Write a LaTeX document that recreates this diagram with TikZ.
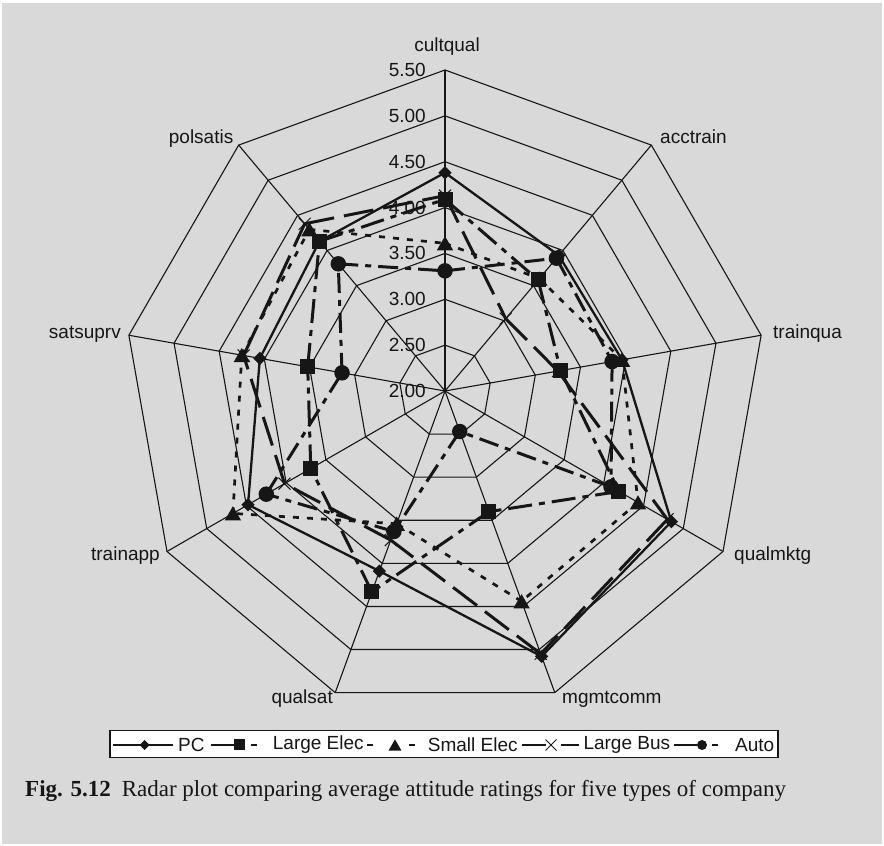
\documentclass[tikz,border=0pt]{standalone}
\usepackage{fontspec}
\setmainfont{Liberation Sans}
\newfontfamily\capfont{Liberation Serif}
\usetikzlibrary{shapes.geometric,shapes.misc}
\definecolor{bgcol}{RGB}{217,217,217}
\definecolor{ink}{RGB}{22,22,22}
\begin{document}
\begin{tikzpicture}[x=1pt,y=1pt,
  gridline/.style={line width=1.1pt,draw=ink},
  vlabel/.style={anchor=east,inner sep=0pt,text=ink,font=\fontsize{19}{22}\selectfont},
  alabel/.style={inner sep=0pt,text=ink,font=\fontsize{19}{22}\selectfont},
  pcline/.style={draw=ink,line width=2.3pt},
  leline/.style={draw=ink,line width=3pt,dash pattern=on 24pt off 7pt on 6pt off 7pt},
  seline/.style={draw=ink,line width=2.7pt,dash pattern=on 6pt off 8pt},
  lbline/.style={draw=ink,line width=3pt,dash pattern=on 30pt off 10pt},
  auline/.style={draw=ink,line width=3pt,dash pattern=on 20pt off 7pt on 6pt off 7pt},
  pcmark/.style={diamond,fill=ink,inner sep=0pt,minimum width=13.5pt,minimum height=13.5pt},
  lemark/.style={rectangle,fill=ink,inner sep=0pt,minimum size=15pt},
  semark/.style={regular polygon,regular polygon sides=3,fill=ink,inner sep=0pt,minimum size=19pt,yshift=-2.3pt},
  lbmark/.style={cross out,draw=ink,line width=1pt,inner sep=0pt,minimum size=11pt},
  aumark/.style={circle,fill=ink,inner sep=0pt,minimum size=15.5pt},
  legline/.style={draw=ink,line width=2.8pt},
  legtext/.style={anchor=west,inner sep=0pt,text=ink,font=\fontsize{19}{22}\selectfont},
]
\useasboundingbox (0,0) rectangle (884,846);
\fill[white] (0,0) rectangle (884,846);
\fill[bgcol] (2,2) rectangle (882,843);

\coordinate (C) at (445,455);
\begin{scope}[shift={(445,455)}]
  % rings
  \foreach \L in {2.5,3.0,3.5,4.0,4.5,5.0,5.5} {
    \draw[gridline] (90:{(\L-2)*91.714})
      \foreach \k in {1,...,8} { -- ({90-40*\k}:{(\L-2)*91.714}) } -- cycle;
  }
  % spoke ends
  \foreach \k in {0,...,8} { \coordinate (ax\k) at ({90-40*\k}:321); }
  % data points
  \foreach \v [count=\i from 0] in {4.38,3.93,3.96,4.85,5.08,4.09,4.48,4.05,4.13}
    { \coordinate (pc\i) at ({90-40*\i}:{(\v-2)*91.714}); }
  \foreach \v [count=\i from 0] in {4.09,3.58,3.28,4.19,3.40,4.33,3.69,3.52,4.13}
    { \coordinate (le\i) at ({90-40*\i}:{(\v-2)*91.714}); }
  \foreach \v [count=\i from 0] in {3.61,3.60,3.96,4.43,4.44,3.54,4.67,4.25,4.30}
    { \coordinate (se\i) at ({90-40*\i}:{(\v-2)*91.714}); }
  \foreach \v [count=\i from 0] in {4.13,3.03,3.25,4.80,5.05,3.73,4.02,4.23,4.38}
    { \coordinate (lb\i) at ({90-40*\i}:{(\v-2)*91.714}); }
  \foreach \v [count=\i from 0] in {3.31,3.89,3.85,4.09,2.47,3.63,4.25,3.14,3.81}
    { \coordinate (au\i) at ({90-40*\i}:{(\v-2)*91.714}); }
\end{scope}

% spokes
\foreach \k in {0,...,8} { \draw[gridline] (C) -- (ax\k); }

% value labels
\foreach \L/\t [count=\n] in {2/2.00,2.5/2.50,3/3.00,3.5/3.50,4/4.00,4.5/4.50,5/5.00,5.5/5.50}
  { \node[vlabel] (vl\n) at (426,{455+(\L-2)*91.714}) {\t}; }

% axis labels
\node[alabel,anchor=base] (lcult) at (447,794) {cultqual};
\node[alabel,anchor=base west] (lacc) at (660,702) {acctrain};
\node[alabel,anchor=base west] (ltq) at (773,507.5) {trainqua};
\node[alabel,anchor=base west] (lqm) at (734,285) {qualmktg};
\node[alabel,anchor=base west] (lmg) at (562,142) {mgmtcomm};
\node[alabel,anchor=base east] (lqs) at (333,142) {qualsat};
\node[alabel,anchor=base east] (lta) at (160,285) {trainapp};
\node[alabel,anchor=base east] (lss) at (121,507.5) {satsuprv};
\node[alabel,anchor=base east] (lps) at (233.5,702) {polsatis};

% series
\foreach \i in {0,...,8} { \pgfmathtruncatemacro{\j}{mod(\i+1,9)} \draw[pcline] (pc\i) -- (pc\j); }
\foreach \i in {0,...,8} { \node[pcmark] (pcm\i) at (pc\i) {}; }
\foreach \i in {0,...,8} { \pgfmathtruncatemacro{\j}{mod(\i+1,9)} \draw[leline] (le\i) -- (le\j); }
\foreach \i in {0,...,8} { \node[lemark] (lem\i) at (le\i) {}; }
\foreach \i in {0,...,8} { \pgfmathtruncatemacro{\j}{mod(\i+1,9)} \draw[seline] (se\i) -- (se\j); }
\foreach \i in {0,...,8} { \node[semark] (sem\i) at (se\i) {}; }
\foreach \i in {0,...,8} { \pgfmathtruncatemacro{\j}{mod(\i+1,9)} \draw[lbline] (lb\i) -- (lb\j); }
\foreach \i in {0,...,8} { \node[lbmark] (lbm\i) at (lb\i) {}; }
\foreach \i in {0,...,8} { \pgfmathtruncatemacro{\j}{mod(\i+1,9)} \draw[auline] (au\i) -- (au\j); }
\foreach \i in {0,...,8} { \node[aumark] (aum\i) at (au\i) {}; }

% legend
\node[draw=ink,fill=white,line width=1.2pt,minimum width=668pt,minimum height=27pt,inner sep=0pt] (legend) at (444,102.3) {};
\coordinate (pa) at (113,101); \coordinate (pb) at (173,101);
\draw[draw=ink,line width=1.8pt] (pa) -- (pb);
\node[pcmark,minimum width=10pt,minimum height=10pt] (lgpc) at (144.6,101) {};
\node[legtext] (tpc) at (178,101) {PC};
\coordinate (la) at (211,101); \coordinate (lb) at (235,101);
\coordinate (lc) at (251,101); \coordinate (ld) at (257,101);
\draw[legline] (la) -- (lb); \draw[legline] (lc) -- (ld);
\node[lemark,minimum size=11pt] (lgle) at (239.5,101) {};
\node[legtext] (tle) at (272.7,101) {Large Elec};
\coordinate (sa) at (367,101); \coordinate (sb) at (373,101);
\coordinate (sc) at (409,101); \coordinate (sd) at (415,101);
\draw[legline] (sa) -- (sb); \draw[legline] (sc) -- (sd);
\node[semark,minimum size=15pt,yshift=0.4pt] (lgse) at (395,101) {};
\node[legtext] (tse) at (427.7,101) {Small Elec};
\coordinate (ba) at (522,101); \coordinate (bb) at (546,101);
\coordinate (bc) at (561,101); \coordinate (bd) at (579,101);
\draw[legline] (ba) -- (bb); \draw[legline] (bc) -- (bd);
\node[lbmark,minimum size=10pt] (lglb) at (551,101) {};
\node[legtext] (tlb) at (583.3,101) {Large Bus};
\coordinate (aa) at (674,101); \coordinate (ab) at (697,101);
\coordinate (ac) at (712,101); \coordinate (ad) at (718,101);
\draw[legline] (aa) -- (ab); \draw[legline] (ac) -- (ad);
\node[aumark,minimum size=10pt] (lgau) at (702,101) {};
\node[legtext] (tau) at (735,101) {Auto};

% caption
\node[anchor=base west,inner sep=0pt,text=ink,font=\capfont\fontsize{23}{27}\selectfont] (cap) at (25,49)
  {\textbf{Fig. 5.12}\hspace{11pt}Radar plot comparing average attitude ratings for five types of company};
\end{tikzpicture}
\end{document}
